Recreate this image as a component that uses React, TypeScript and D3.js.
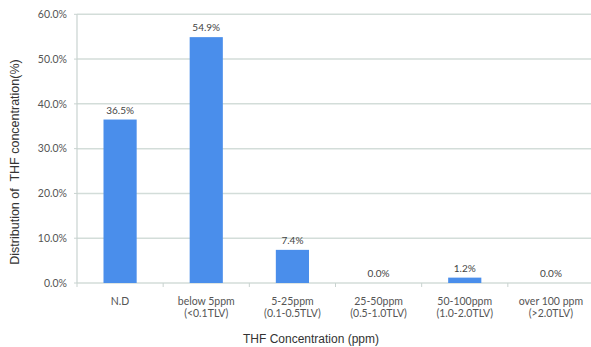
import React from "react";
import * as d3 from "d3";

const categories: string[][] = [
  ["N.D"],
  ["below 5ppm", "(<0.1TLV)"],
  ["5-25ppm", "(0.1-0.5TLV)"],
  ["25-50ppm", "(0.5-1.0TLV)"],
  ["50-100ppm", "(1.0-2.0TLV)"],
  ["over 100 ppm", "(>2.0TLV)"],
];
const values: number[] = [36.5, 54.9, 7.4, 0.0, 1.2, 0.0];
const yTicks: number[] = [0, 10, 20, 30, 40, 50, 60];

const W = 591;
const H = 347;
const left = 77;
const right = 594;
const top = 14.3;
const bottom = 283;

export default function App() {
  const x = d3
    .scaleBand<number>()
    .domain(d3.range(categories.length))
    .range([left, right])
    .paddingInner(0)
    .paddingOuter(0);
  const y = d3.scaleLinear().domain([0, 60]).range([bottom, top]);
  const bandW = x.bandwidth();
  const bw = bandW * 0.385;

  const font = "'Liberation Sans', Arial, sans-serif";
  const tickFont = "Lato, 'Open Sans', sans-serif";

  return (
    <div style={{ position: "absolute", left: 0, top: 0 }}>
      <svg width={W} height={H} style={{ display: "block", background: "#fff" }}>
        {/* horizontal grid */}
        {yTicks.map((t) => (
          <line
            key={t}
            x1={left}
            x2={W}
            y1={y(t)}
            y2={y(t)}
            stroke="#d3ddd9"
            strokeWidth={1.5}
          />
        ))}
        {/* y axis */}
        <line x1={left} x2={left} y1={top} y2={bottom} stroke="#c9d3d0" strokeWidth={1.2} />
        {yTicks.map((t) => (
          <line key={"yt" + t} x1={left - 3} x2={left} y1={y(t)} y2={y(t)} stroke="#c9d3d0" />
        ))}
        {yTicks.map((t) => (
          <text
            key={"yl" + t}
            x={left - 10}
            y={y(t)}
            dy="0.35em"
            textAnchor="end"
            fontFamily={tickFont}
            fontSize={10.5}
            fill="#555"
          >
            {t.toFixed(1) + "%"}
          </text>
        ))}
        {/* category separators on the x axis */}
        {d3.range(categories.length + 1).map((i) => {
          const xi = i < categories.length ? (x(i) as number) : right;
          return (
            <line key={"xt" + i} x1={xi} x2={xi} y1={bottom} y2={bottom + 4} stroke="#c9d3d0" />
          );
        })}
        {/* bars with value labels */}
        {values.map((v, i) => {
          const cx = (x(i) as number) + bandW / 2;
          return (
            <g key={"b" + i}>
              <rect
                x={cx - bw / 2}
                y={y(v)}
                width={bw}
                height={bottom - y(v)}
                fill="#4a8eeb"
              />
              <text
                x={cx}
                y={y(v) - 6}
                textAnchor="middle"
                fontFamily={tickFont}
                fontSize={10}
                fill="#444"
              >
                {v.toFixed(1) + "%"}
              </text>
            </g>
          );
        })}
        {/* category labels */}
        {categories.map((lines, i) => {
          const cx = (x(i) as number) + bandW / 2;
          return (
            <text
              key={"c" + i}
              textAnchor="middle"
              fontFamily={tickFont}
              fontSize={10.5}
              fill="#555"
            >
              {lines.map((l, j) => (
                <tspan key={j} x={cx} y={305 + j * 12}>
                  {l}
                </tspan>
              ))}
            </text>
          );
        })}
        {/* axis titles */}
        <text
          x={311}
          y={343}
          textAnchor="middle"
          fontFamily={font}
          fontSize={12}
          fill="#333"
        >
          THF Concentration (ppm)
        </text>
        <text
          transform="translate(19,162) rotate(-90)"
          textAnchor="middle"
          fontFamily={font}
          fontSize={12.5}
          fill="#333"
          style={{ whiteSpace: "pre" }}
        >
          {"Distribution of  THF concentration(%)"}
        </text>
      </svg>
    </div>
  );
}
